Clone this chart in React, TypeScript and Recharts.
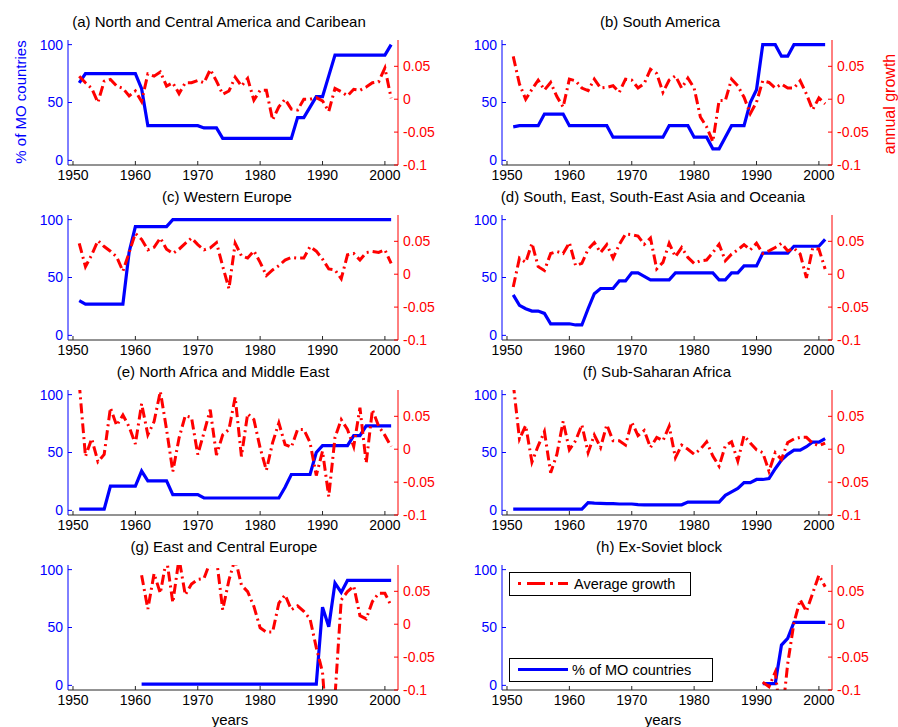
import { LineChart, Line, XAxis, YAxis } from 'recharts'

const YEARS = [
  1951, 1952, 1953, 1954, 1955, 1956, 1957, 1958, 1959, 1960,
  1961, 1962, 1963, 1964, 1965, 1966, 1967, 1968, 1969, 1970,
  1971, 1972, 1973, 1974, 1975, 1976, 1977, 1978, 1979, 1980,
  1981, 1982, 1983, 1984, 1985, 1986, 1987, 1988, 1989, 1990,
  1991, 1992, 1993, 1994, 1995, 1996, 1997, 1998, 1999, 2000,
  2001,
]

const X_TICKS = [1950, 1960, 1970, 1980, 1990, 2000]
const MO_TICKS = [0, 50, 100]
const GROWTH_TICKS = [-0.1, -0.05, 0, 0.05]

const TITLES = [
  '(a) North and Central America and Caribean',
  '(b) South America',
  '(c) Western Europe',
  '(d) South, East, South-East Asia and Oceania',
  '(e) North Africa and Middle East',
  '(f) Sub-Saharan Africa',
  '(g) East and Central Europe',
  '(h) Ex-Soviet block',
]

// % of MO countries (left axis), one value per year from the first year of the panel
const MO_A = [
  67, 75, 75, 75, 75, 75, 75, 75, 75, 75,
  62, 30, 30, 30, 30, 30, 30, 30, 30, 30,
  28, 28, 28, 19, 19, 19, 19, 19, 19, 19,
  19, 19, 19, 19, 19, 37, 37, 46, 55, 55,
  73, 91, 91, 91, 91, 91, 91, 91, 91, 91,
  100,
]
const MO_B = [
  29, 30, 30, 30, 30, 40, 40, 40, 40, 30,
  30, 30, 30, 30, 30, 30, 20, 20, 20, 20,
  20, 20, 20, 20, 20, 30, 30, 30, 30, 20,
  20, 20, 10, 10, 20, 30, 30, 30, 50, 61,
  100, 100, 100, 90, 90, 100, 100, 100, 100, 100,
  100,
]
const MO_C = [
  30, 27, 27, 27, 27, 27, 27, 27, 72, 94,
  94, 94, 94, 94, 94, 100, 100, 100, 100, 100,
  100, 100, 100, 100, 100, 100, 100, 100, 100, 100,
  100, 100, 100, 100, 100, 100, 100, 100, 100, 100,
  100, 100, 100, 100, 100, 100, 100, 100, 100, 100,
  100,
]
const MO_D = [
  35, 26, 23, 21, 21, 19, 10, 10, 10, 10,
  9, 9, 23, 36, 40.5, 40.5, 40.5, 47, 47, 54,
  54, 51, 48, 48, 48, 48, 54, 54, 54, 54,
  54, 54, 54, 48, 48, 54, 54, 60, 60, 60,
  71, 71, 71, 71, 71, 77, 77, 77, 77, 77,
  83,
]
const MO_E = [
  1, 1, 1, 1, 1, 21, 21, 21, 21, 21,
  34, 25.5, 25.5, 25.5, 25.5, 13.6, 13.6, 13.6, 13.6, 13.6,
  10.7, 10.7, 10.7, 10.7, 10.7, 10.7, 10.7, 10.7, 10.7, 10.7,
  10.7, 10.7, 10.7, 20, 31, 31, 31, 31, 50, 56,
  56, 56, 56, 56, 64.6, 64.6, 73, 73, 73, 73,
  73,
]
const MO_F = [
  1, 1, 1, 1, 1, 1, 1, 1, 1, 1,
  1, 1, 6.7, 6.2, 6, 5.8, 5.8, 5.5, 5.5, 5.5,
  5, 4.8, 4.8, 4.8, 4.8, 4.8, 4.8, 4.8, 7.2, 7.2,
  7.2, 7.2, 7.2, 7.2, 13, 16, 19, 24, 24, 26.7,
  26.7, 27.5, 36, 43.5, 48.4, 52, 52, 55, 59, 59,
  62,
]
const MO_G = [
  1, 1, 1, 1, 1, 1, 1, 1, 1, 1,
  1, 1, 1, 1, 1, 1, 1, 1, 1, 1,
  1, 1, 1, 1, 1, 1, 1, 1, 1, 67.6,
  50.7, 88.4, 80.3, 90.7, 90.7, 90.7, 90.7, 90.7, 90.7, 90.7,
  90.7,
]
const MO_H = [1.5, 1.5, 1.5, 34.8, 40.6, 54.5, 54.5, 54.5, 54.5, 54.5, 54.5]

// annual growth (right axis)
const GR_A = [
  0.035, 0.025, 0.0165, -0.005, 0.0275, 0.03, 0.02, 0.0165, 0.005, 0.0125,
  -0.0035, 0.0385, 0.035, 0.0415, 0.02, 0.025, 0.0085, 0.025, 0.025, 0.0285,
  0.025, 0.045, 0.0275, 0.0075, 0.0125, 0.0335, 0.02, 0.0315, -0.0015, 0.0135,
  0.0135, -0.0315, -0.0115, 0, -0.015, -0.0165, 0, 0, 0.0025, -0.0025,
  -0.0185, 0.0165, 0.0115, 0.005, 0.015, 0.0135, 0.0185, 0.025, 0.0265, 0.0475,
  0.0015,
]
const GR_B = [
  0.065, 0.023, 0, 0.015, 0.029, 0.014, 0.0255, 0.004, -0.012, 0.0305,
  0.028, 0.017, 0.013, 0.0305, 0.017, 0.018, 0.0205, 0.0105, 0.0305, 0.029,
  0.017, 0.024, 0.0455, 0.039, 0.0105, 0.029, 0.0355, 0.017, 0.032, 0.017,
  -0.027, -0.042, -0.0645, -0.002, -0.002, 0.0305, 0.0205, 0.003, -0.022, -0.0045,
  0.028, 0.0255, 0.017, 0.023, 0.017, 0.017, 0.028, 0.008, -0.016, 0.002,
  -0.007,
]
const GR_C = [
  0.047, 0.0115, 0.0295, 0.051, 0.042, 0.035, 0.0265, 0.0045, 0.033, 0.062,
  0.053, 0.037, 0.041, 0.055, 0.038, 0.0315, 0.038, 0.047, 0.055, 0.045,
  0.037, 0.04, 0.048, 0.012, -0.022, 0.047, 0.028, 0.0245, 0.0355, 0.018,
  -0.002, 0.0065, 0.013, 0.0215, 0.0255, 0.0245, 0.0245, 0.042, 0.035, 0.023,
  0.008, 0.0065, -0.007, 0.0295, 0.0315, 0.0215, 0.033, 0.0345, 0.033, 0.037,
  0.0165,
]
const GR_D = [
  -0.0195, 0.0245, 0.018, 0.047, 0.0115, 0.0055, 0.0315, 0.0345, 0.0315, 0.048,
  0.013, 0.0165, 0.038, 0.048, 0.033, 0.045, 0.0245, 0.045, 0.061, 0.06,
  0.058, 0.0455, 0.055, 0.008, 0.018, 0.047, 0.0265, 0.0405, 0.0255, 0.0165,
  0.0205, 0.0215, 0.033, 0.0455, 0.0205, 0.0305, 0.037, 0.045, 0.037, 0.047,
  0.0315, 0.0355, 0.0405, 0.047, 0.0355, 0.0395, 0.0305, -0.0055, 0.0395, 0.038,
  0.008,
]
const GR_E = [
  0.1, -0.011, 0.016, -0.019, -0.008, 0.063, 0.036, 0.052, 0.034, 0.008,
  0.069, 0.022, 0.042, 0.088, 0.03, -0.034, 0.017, 0.051, 0.048, -0.008,
  0.025, 0.06, -0.009, 0.022, 0.03, 0.079, -0.011, 0.054, 0.045, 0.002,
  -0.032, 0.01, 0.04, 0.007, 0.003, 0.03, 0.03, 0.01, -0.04, -0.003,
  -0.072, 0.018, 0.045, 0.03, 0.004, 0.063, -0.021, 0.06, 0.035, 0.021,
  0.004,
]
const GR_F = [
  0.1, 0.0155, 0.036, -0.0196, 0.0052, 0.0268, -0.036, -0.0077, 0.0423, -0.001,
  0.0129, 0.0371, -0.0052, 0.0216, 0.0026, 0.0371, 0.0129, 0.0129, 0.0062, 0.0412,
  0.0206, 0.0284, 0.0026, 0.018, 0.0129, 0.035, -0.0129, 0.0062, 0, -0.0077,
  0, 0.0113, -0.0103, -0.0258, 0.0052, 0.0113, -0.018, 0.0206, 0.0093, -0.001,
  -0.0052, -0.0335, -0.0052, -0.0155, 0.0103, 0.0155, 0.018, 0.018, 0.0093, 0.0052,
  0.0093,
]
const GR_G = [
  0.0745, 0.023, 0.077, 0.047, 0.1, 0.033, 0.1, 0.0445, 0.061, 0.068,
  0.0695, 0.095, 0.1, 0.022, 0.067, 0.1, 0.0595, 0.0495, 0.027, -0.0055,
  -0.012, -0.012, 0.032, 0.0445, 0.022, 0.028, 0.0195, 0.008, -0.0355, -0.073,
  -0.2, -0.11, 0.037, 0.0495, 0.058, 0.013, 0.008, 0.0345, 0.047, 0.047,
  0.028,
]
const GR_H = [-0.088, -0.095, -0.073, -0.15, -0.06, 0.002, 0.037, 0.0195, 0.047, 0.0745, 0.057]

const START = [1951, 1951, 1951, 1951, 1951, 1951, 1961, 1991]
const MO = [MO_A, MO_B, MO_C, MO_D, MO_E, MO_F, MO_G, MO_H]
const GROWTH = [GR_A, GR_B, GR_C, GR_D, GR_E, GR_F, GR_G, GR_H]

// layout
const COL_X = [68, 502]
const ROW_Y = [40, 215, 390, 565]
const PLOT_W = 330
const PLOT_H = 125
const LEFT_W = 40
const RIGHT_W = 52
const TOP_PAD = 6
const TITLE_X = [219, 660, 227, 653, 223, 657, 224, 659]

const BLUE = '#0000ff'
const RED = '#ff0000'
const INK = '#262626'
const FONT = '"Liberation Sans", Arial, Helvetica, sans-serif'

function Panel({ idx }: { idx: number }) {
  const offset = START[idx] - 1951
  const data = YEARS.map((year, i) => ({
    year,
    mo: i - offset >= 0 ? MO[idx][i - offset] ?? null : null,
    growth: i - offset >= 0 ? GROWTH[idx][i - offset] ?? null : null,
  }))
  const col = idx % 2
  const row = Math.floor(idx / 2)
  return (
    <div style={{ position: 'absolute', left: COL_X[col] - LEFT_W, top: ROW_Y[row] - TOP_PAD }}>
      <LineChart
        width={LEFT_W + PLOT_W + RIGHT_W}
        height={TOP_PAD + PLOT_H + 24}
        data={data}
        margin={{ top: TOP_PAD, right: 0, bottom: 0, left: 0 }}
      >
        <XAxis
          dataKey="year"
          type="number"
          domain={[1949.2, 2002.1]}
          ticks={X_TICKS}
          allowDataOverflow
          height={24}
          stroke={INK}
          tickSize={-4}
          tickMargin={9}
          tick={{ fill: '#000', fontSize: 14 }}
        />
        <YAxis
          yAxisId="mo"
          orientation="left"
          width={LEFT_W}
          domain={[-4, 104]}
          ticks={MO_TICKS}
          allowDataOverflow
          stroke={BLUE}
          tickSize={-4}
          tickMargin={9}
          tick={{ fill: BLUE, fontSize: 14 }}
        />
        <YAxis
          yAxisId="gr"
          orientation="right"
          width={RIGHT_W}
          domain={[-0.1, 0.09]}
          ticks={GROWTH_TICKS}
          allowDataOverflow
          stroke={RED}
          tickSize={-4}
          tickMargin={9}
          tick={{ fill: RED, fontSize: 14 }}
        />
        <Line
          yAxisId="mo"
          dataKey="mo"
          stroke={BLUE}
          strokeWidth={3.2}
          dot={false}
          activeDot={false}
          isAnimationActive={false}
        />
        <Line
          yAxisId="gr"
          dataKey="growth"
          stroke={RED}
          strokeWidth={3}
          strokeDasharray="10 4 2 4"
          dot={false}
          activeDot={false}
          isAnimationActive={false}
        />
      </LineChart>
    </div>
  )
}

export default function App() {
  return (
    <div style={{ position: 'absolute', left: 0, top: 0, width: 898, height: 727, background: '#fff', fontFamily: FONT }}>
      {TITLES.map((_, i) => (
        <Panel key={i} idx={i} />
      ))}
      <svg width={898} height={727} style={{ position: 'absolute', left: 0, top: 0, pointerEvents: 'none' }}>
        {TITLES.map((t, i) => (
          <text key={t} x={TITLE_X[i]} y={ROW_Y[Math.floor(i / 2)] - 12.7} textAnchor="middle" fontSize={15} fill="#000">
            {t}
          </text>
        ))}
        <text x={20} y={102} transform="rotate(-90 20 102)" textAnchor="middle" dominantBaseline="central" fontSize={15} fill={BLUE}>
          % of MO countries
        </text>
        <text x={889} y={104} transform="rotate(-90 889 104)" textAnchor="middle" dominantBaseline="central" fontSize={16} fill={RED}>
          annual growth
        </text>
        <text x={230} y={725} textAnchor="middle" fontSize={15} fill="#000">years</text>
        <text x={663} y={725} textAnchor="middle" fontSize={15} fill="#000">years</text>

        {/* legend boxes in panel (h) */}
        <rect x={509.5} y={572.5} width={181} height={23} fill="#fff" stroke="#000" />
        <line x1={518} y1={583.5} x2={568} y2={583.5} stroke={RED} strokeWidth={3} strokeDasharray="3 6 18 5 3 5 12" />
        <text x={574} y={589} fontSize={14.5} fill="#000">Average growth</text>
        <rect x={509.5} y={658.5} width={203} height={23} fill="#fff" stroke="#000" />
        <line x1={518} y1={669.5} x2={568} y2={669.5} stroke={BLUE} strokeWidth={3.2} />
        <text x={572} y={675} fontSize={14.5} fill="#000">% of MO countries</text>
      </svg>
    </div>
  )
}
